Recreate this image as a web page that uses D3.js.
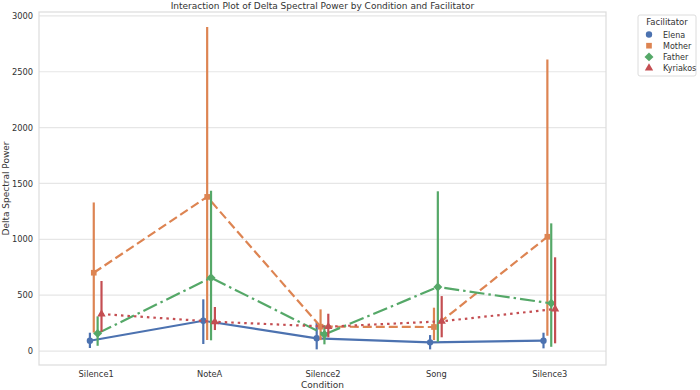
<!DOCTYPE html>
<html>
<head>
<meta charset="utf-8">
<script src="https://cdn.jsdelivr.net/npm/d3@7"></script>
<style>
  body { margin: 0; background: #fff; }
  text { font-family: "DejaVu Sans", sans-serif; fill: #333; }
</style>
</head>
<body>
<script>
var conditions = ['Silence1', 'NoteA', 'Silence2', 'Song', 'Silence3'];
var facilitators = ['Elena', 'Mother', 'Father', 'Kyriakos'];

// means and confidence intervals, one array per facilitator
var elenaMean = [92, 271, 114, 78, 93];
var elenaLow  = [27, 63, 15, 15, 24];
var elenaHigh = [164, 463, 257, 143, 164];

var motherMean = [701, 1380, 218, 215, 1023];
var motherLow  = [165, 98, 98, 98, 137];
var motherHigh = [1330, 2900, 373, 388, 2610];

var fatherMean = [158, 656, 149, 573, 427];
var fatherLow  = [47, 96, 60, 83, 38];
var fatherHigh = [310, 1435, 230, 1430, 1143];

var kyriakosMean = [331, 262, 218, 266, 376];
var kyriakosLow  = [173, 188, 123, 123, 69];
var kyriakosHigh = [627, 394, 334, 492, 839];

var yTicks = [0, 500, 1000, 1500, 2000, 2500, 3000];

// matplotlib style diamond: a square turned 45 degrees
var diamond = {
  draw: function(ctx, size) {
    var r = Math.sqrt(size / 2);
    ctx.moveTo(0, -r);
    ctx.lineTo(r, 0);
    ctx.lineTo(0, r);
    ctx.lineTo(-r, 0);
    ctx.closePath();
  }
};

var series = [
  {name: 'Elena', mean: elenaMean, low: elenaLow, high: elenaHigh, color: '#4c72b0', dash: null, shape: d3.symbolCircle, size: 32},
  {name: 'Mother', mean: motherMean, low: motherLow, high: motherHigh, color: '#dd8452', dash: '9,4', shape: d3.symbolSquare, size: 32},
  {name: 'Father', mean: fatherMean, low: fatherLow, high: fatherHigh, color: '#55a868', dash: '15,4,2.5,4', shape: diamond, size: 40},
  {name: 'Kyriakos', mean: kyriakosMean, low: kyriakosLow, high: kyriakosHigh, color: '#c44e52', dash: '2.5,4', shape: d3.symbolTriangle, size: 30}
];

var w = 700, h = 390;
var mLeft = 39, mRight = 606, mTop = 12, mBottom = 365;

var svg = d3.select('body').append('svg')
            .attr('width', w)
            .attr('height', h);

var xScale = d3.scalePoint()
               .domain(conditions)
               .range([mLeft, mRight])
               .padding(0.5);

var dodge = d3.scalePoint()
              .domain(facilitators)
              .range([-5.8, 5.8]);

var yScale = d3.scaleLinear()
               .domain([-125, 3035])
               .range([mBottom, mTop]);

// grid lines
svg.append('g')
   .selectAll('line')
   .data(yTicks)
   .enter()
   .append('line')
   .attr('x1', mLeft)
   .attr('x2', mRight)
   .attr('y1', function(d) { return yScale(d); })
   .attr('y2', function(d) { return yScale(d); })
   .attr('stroke', '#e6e6e6')
   .attr('stroke-width', 1.2);

// frame
svg.append('rect')
   .attr('x', mLeft)
   .attr('y', mTop)
   .attr('width', mRight - mLeft)
   .attr('height', mBottom - mTop)
   .attr('fill', 'none')
   .attr('stroke', '#dcdcdc')
   .attr('stroke-width', 1.2);

// axes
var yAxis = svg.append('g')
   .attr('transform', 'translate(' + mLeft + ',0)')
   .call(d3.axisLeft(yScale).tickValues(yTicks).tickFormat(d3.format('d')).tickSize(0).tickPadding(6));
var xAxis = svg.append('g')
   .attr('transform', 'translate(0,' + mBottom + ')')
   .call(d3.axisBottom(xScale).tickSize(0).tickPadding(6));
[yAxis, xAxis].forEach(function(a) {
  a.select('.domain').remove();
  a.selectAll('text').attr('font-size', '8.3px').attr('fill', '#333');
});

// series
series.forEach(function(s) {
  var g = svg.append('g');
  var off = dodge(s.name);

  g.selectAll('line.err')
   .data(conditions)
   .enter()
   .append('line')
   .attr('class', 'err')
   .attr('x1', function(d) { return xScale(d) + off; })
   .attr('x2', function(d) { return xScale(d) + off; })
   .attr('y1', function(d, i) { return yScale(s.low[i]); })
   .attr('y2', function(d, i) { return yScale(s.high[i]); })
   .attr('stroke', s.color)
   .attr('stroke-width', 2.2);

  var line = d3.line()
               .x(function(d, i) { return xScale(conditions[i]) + off; })
               .y(function(d) { return yScale(d); });

  g.append('path')
   .datum(s.mean)
   .attr('d', line)
   .attr('fill', 'none')
   .attr('stroke', s.color)
   .attr('stroke-width', 2.2)
   .attr('stroke-dasharray', s.dash);

  g.selectAll('path.mark')
   .data(s.mean)
   .enter()
   .append('path')
   .attr('class', 'mark')
   .attr('d', d3.symbol().type(s.shape).size(s.size))
   .attr('transform', function(d, i) {
      return 'translate(' + (xScale(conditions[i]) + off) + ',' + yScale(d) + ')';
   })
   .attr('fill', s.color);
});

// title and labels
svg.append('text')
   .attr('x', (mLeft + mRight) / 2)
   .attr('y', 9)
   .attr('text-anchor', 'middle')
   .attr('font-size', '9px')
   .text('Interaction Plot of Delta Spectral Power by Condition and Facilitator');

svg.append('text')
   .attr('x', (mLeft + mRight) / 2)
   .attr('y', 388)
   .attr('text-anchor', 'middle')
   .attr('font-size', '9px')
   .text('Condition');

svg.append('text')
   .attr('transform', 'translate(9,' + ((mTop + mBottom) / 2) + ') rotate(-90)')
   .attr('text-anchor', 'middle')
   .attr('font-size', '9px')
   .text('Delta Spectral Power');

// legend
var lg = svg.append('g').attr('transform', 'translate(638,15)');
lg.append('rect')
  .attr('width', 58)
  .attr('height', 61)
  .attr('rx', 2)
  .attr('fill', '#fff')
  .attr('stroke', '#dcdcdc');
lg.append('text')
  .attr('x', 29)
  .attr('y', 10)
  .attr('text-anchor', 'middle')
  .attr('font-size', '8.5px')
  .text('Facilitator');
var items = lg.selectAll('g.item')
  .data(series)
  .enter()
  .append('g')
  .attr('class', 'item')
  .attr('transform', function(d, i) { return 'translate(0,' + (19.5 + i * 11.2) + ')'; });
items.append('path')
  .attr('d', function(d) { return d3.symbol().type(d.shape).size(d.size)(); })
  .attr('transform', 'translate(11,0)')
  .attr('fill', function(d) { return d.color; });
items.append('text')
  .attr('x', 25)
  .attr('y', 3)
  .attr('font-size', '8px')
  .text(function(d) { return d.name; });
</script>
</body>
</html>
